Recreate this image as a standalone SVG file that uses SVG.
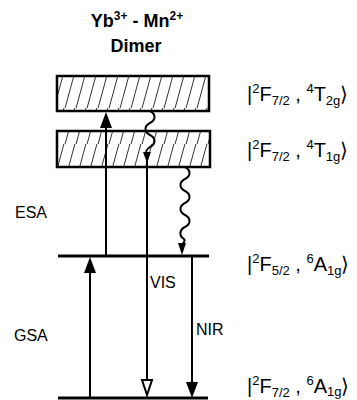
<svg xmlns="http://www.w3.org/2000/svg" width="357" height="400" viewBox="0 0 357 400">
<style>
  text { font-family: "Liberation Sans", Arial, sans-serif; fill: #000; }
  .title { font-size: 18px; font-weight: bold; }
  .tsup { font-size: 12px; }
  .lbl { font-size: 20px; }
  .small { font-size: 13px; }
  .side { font-size: 16px; }
  .box { fill: url(#hatch); stroke: #000; stroke-width: 2.5; }
  .level { stroke: #000; stroke-width: 3; fill: none; }
  .arr { stroke: #000; stroke-width: 2; fill: none; }
  .wavy { stroke: #000; stroke-width: 2; fill: none; }
</style>
<defs>
  <pattern id="hatch" patternUnits="userSpaceOnUse" x="57" y="0" width="11" height="36">
    <line x1="-4" y1="40" x2="8" y2="-4" stroke="#000" stroke-width="0.8"/>
    <line x1="7" y1="40" x2="19" y2="-4" stroke="#000" stroke-width="0.8"/>
  </pattern>
</defs>

<g id="title">
  <text class="title" x="137" y="27" text-anchor="middle">Yb<tspan class="tsup" dy="-7">3+</tspan><tspan dy="7"> - Mn</tspan><tspan class="tsup" dy="-7">2+</tspan></text>
  <text class="title" x="136" y="52" text-anchor="middle">Dimer</text>
</g>

<g id="state-4T2g">
  <rect class="box" x="57" y="76" width="152" height="35"/>
  <text class="lbl" x="247" y="101">|<tspan class="small" dy="-8">2</tspan><tspan dy="8">F</tspan><tspan class="small" dy="4">7/2</tspan><tspan dy="-4"> , </tspan><tspan class="small" dy="-8">4</tspan><tspan dy="8">T</tspan><tspan class="small" dy="4">2g</tspan><tspan dy="-4">⟩</tspan></text>
</g>

<g id="state-4T1g">
  <rect class="box" x="57" y="131" width="153" height="36"/>
  <text class="lbl" x="247" y="157">|<tspan class="small" dy="-8">2</tspan><tspan dy="8">F</tspan><tspan class="small" dy="4">7/2</tspan><tspan dy="-4"> , </tspan><tspan class="small" dy="-8">4</tspan><tspan dy="8">T</tspan><tspan class="small" dy="4">1g</tspan><tspan dy="-4">⟩</tspan></text>
</g>

<g id="state-excited">
  <line class="level" x1="58" y1="256" x2="209" y2="256"/>
  <text class="lbl" x="247" y="271">|<tspan class="small" dy="-8">2</tspan><tspan dy="8">F</tspan><tspan class="small" dy="4">5/2</tspan><tspan dy="-4"> , </tspan><tspan class="small" dy="-8">6</tspan><tspan dy="8">A</tspan><tspan class="small" dy="4">1g</tspan><tspan dy="-4">⟩</tspan></text>
</g>

<g id="state-ground">
  <line class="level" x1="58" y1="398" x2="208" y2="398"/>
  <text class="lbl" x="247" y="393">|<tspan class="small" dy="-8">2</tspan><tspan dy="8">F</tspan><tspan class="small" dy="4">7/2</tspan><tspan dy="-4"> , </tspan><tspan class="small" dy="-8">6</tspan><tspan dy="8">A</tspan><tspan class="small" dy="3">1g</tspan><tspan dy="-3">⟩</tspan></text>
</g>

<g id="connectors">
  <!-- GSA -->
  <line class="arr" x1="90" y1="398" x2="90" y2="270"/>
  <polygon points="90,257 84,273 96,273" fill="#000"/>
  <!-- ESA -->
  <line class="arr" x1="106" y1="256" x2="106" y2="125"/>
  <polygon points="106,112 100,128 112,128" fill="#000"/>
  <!-- wavy 1 -->
  <path class="wavy" d="M150,111 C156,114 156,120 150,123 C144,126 144,132 150,135 C156,138 156,144 150,147 C145,150 146,152 147,154"/>
  <polygon points="147,163 143,152 151,152" fill="#000"/>
  <!-- VIS -->
  <line class="arr" x1="147" y1="160" x2="147" y2="380"/>
  <polygon points="147,395 142,380 152,380" fill="#fff" stroke="#000" stroke-width="2"/>
  <!-- wavy 2 -->
  <path class="wavy" d="M185,167 C191,170 191,176 185,179 C179,182 179,188 185,191 C191,194 191,200 185,203 C179,206 179,212 185,215 C191,218 191,224 185,227 C179,230 179,236 184,239 C186,241 183,243 182,245"/>
  <polygon points="182,255 178,243 186,243" fill="#000"/>
  <!-- NIR -->
  <line class="arr" x1="192" y1="256" x2="192" y2="384"/>
  <polygon points="192,398 186,382 198,382" fill="#000"/>
</g>

<g id="labels">
  <text class="side" x="15" y="218">ESA</text>
  <text class="side" x="14" y="341">GSA</text>
  <text class="side" x="150" y="288">VIS</text>
  <text class="side" x="196" y="335">NIR</text>
</g>
</svg>
